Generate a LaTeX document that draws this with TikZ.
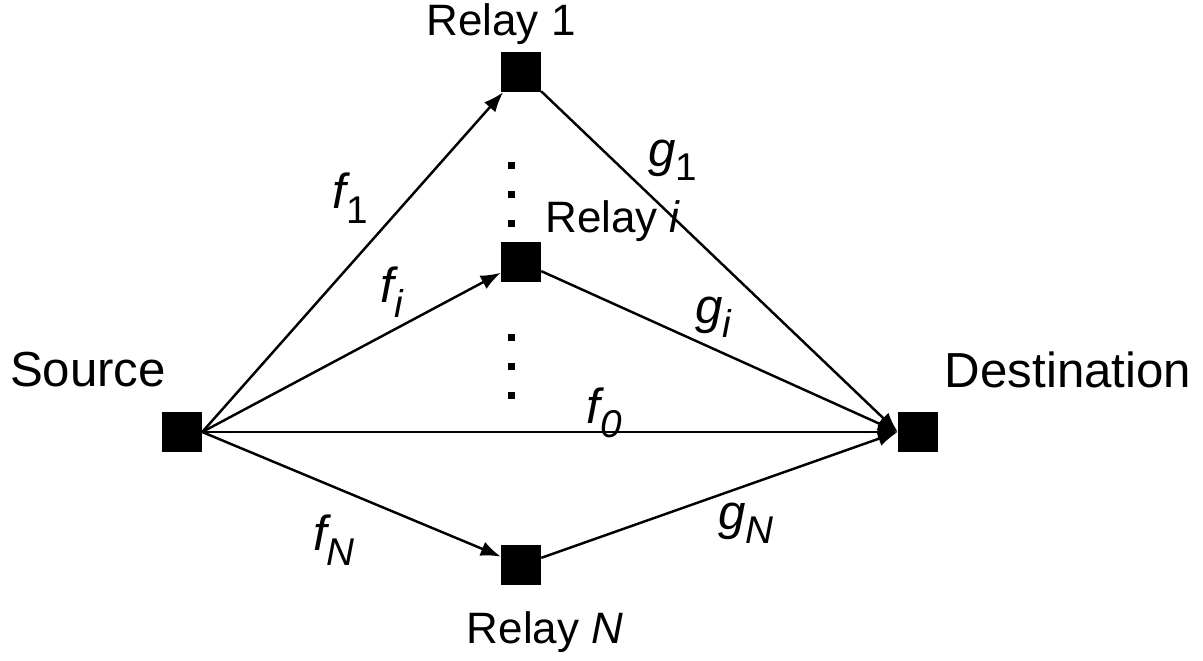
\documentclass[tikz,border=0pt]{standalone}
\usepackage{fontspec}
\setmainfont{Liberation Sans}
\usetikzlibrary{arrows.meta}
\tikzset{
  >={Latex[length=2mm,width=1.5mm]},
  term/.style={draw=black,fill=black,minimum size=3.9mm,inner sep=0pt},
  tag/.style={font=\fontsize{14}{16}\selectfont,inner sep=0pt},
  rtag/.style={font=\fontsize{12.5}{15}\selectfont,inner sep=0pt},
  chan/.style={font=\fontsize{14}{16}\selectfont\itshape,inner sep=0pt},
  link/.style={->,draw=black,line width=0.7pt},
}
\newcommand{\lowsub}[1]{\raisebox{-0.55ex}{\fontsize{11}{12}\selectfont #1}}

\begin{document}
\begin{tikzpicture}[x=0.01cm,y=-0.01cm]
\useasboundingbox (0,0) rectangle (1203,660);
% terminals
\node[term] (src) at (182,432) {};
\node[term] (dst) at (918,432) {};
\node[term] (ra) at (521,72) {};
\node[term] (ri) at (521,262) {};
\node[term] (rn) at (521,565) {};
% names
\node[tag] (srcname) at (88,370) {Source};
\node[tag] (dstname) at (1068,370) {Destination};
\node[rtag] (raname) at (501,24) {Relay 1};
\node[rtag] (riname) at (613,221) {Relay \textit{i}};
\node[rtag] (rnname) at (545,632) {Relay \textit{N}};
% vertical dots
\foreach \y in {165,194,223,337,366,395}
  \fill (508,\y-3.5) rectangle ++(7,7);
% links
\draw[link] (src.east) -- (ra);
\draw[link] (src.east) -- (ri);
\draw[link] (src.east) -- (dst.west);
\draw[link] (src.east) -- (rn);
\draw[link] (ra) -- (dst.west);
\draw[link] (ri) -- (dst.west);
\draw[link] (rn) -- (dst.west);
% channel labels
\node[chan] (fa) at (350,198) {f\lowsub{\upshape 1}};
\node[chan] (fi) at (392,292) {f\lowsub{i}};
\node[chan] (fo) at (604,413) {f\lowsub{0}};
\node[chan] (fn) at (334,540) {f\lowsub{N}};
\node[chan] (ga) at (673,160) {g\lowsub{\upshape 1}};
\node[chan] (gi) at (713,317) {g\lowsub{i}};
\node[chan] (gn) at (746,523) {g\lowsub{N}};
\end{tikzpicture}
\end{document}
